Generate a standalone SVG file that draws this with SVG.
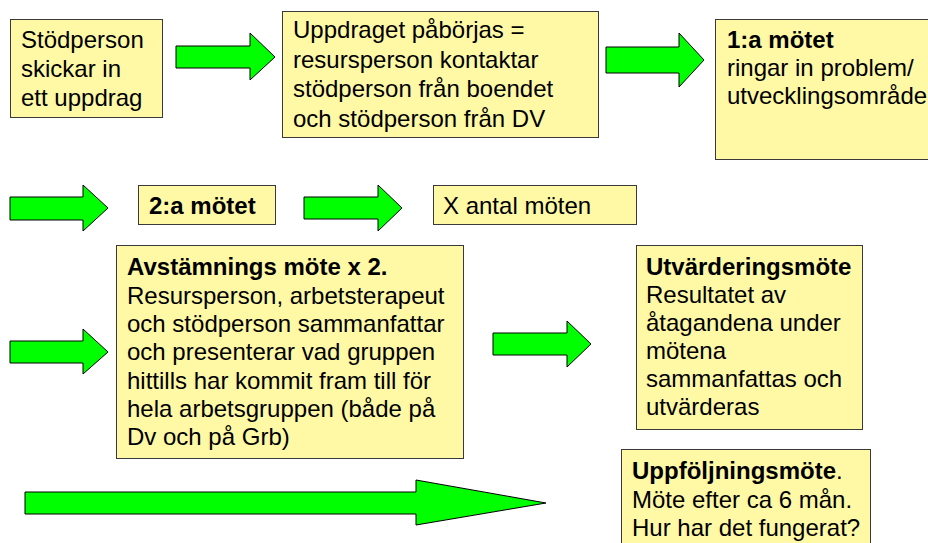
<svg xmlns="http://www.w3.org/2000/svg" width="928" height="543" viewBox="0 0 928 543">
<style>
.box{fill:#FFF9A6;stroke:#3a3a3a;stroke-width:1}
.arr{fill:#00FF00;stroke:#000;stroke-width:1;stroke-linejoin:miter}
text{font-family:"Liberation Sans",Arial,sans-serif;font-size:24px;fill:#000}
.b{font-weight:bold}
</style>
<rect width="928" height="543" fill="#fff"/>
<g id="connectors">
<polygon class="arr" points="176,46 250,46 250,33 275,57 250,80 250,68 176,68"/>
<polygon class="arr" points="606,47 679,47 679,33 704,60 679,87 679,73 606,73"/>
<polygon class="arr" points="10,197 83,197 83,185 108,208 83,231 83,220 10,220"/>
<polygon class="arr" points="304,197 378,197 378,185 402,208 378,231 378,219 304,219"/>
<polygon class="arr" points="10,341 83,341 83,329 108,352 83,374 83,363 10,363"/>
<polygon class="arr" points="493,333 567,333 567,321 591,344 567,367 567,355 493,355"/>
<polygon class="arr" points="25,492 416,492 416,480 546,503 416,525 416,514 25,514"/>
</g>
<g id="n1">
<rect class="box" x="10.5" y="19.5" width="152" height="98"/>
<text x="21" y="48">Stödperson<tspan x="21" y="77">skickar in</tspan><tspan x="21" y="106">ett uppdrag</tspan></text>
</g>
<g id="n2">
<rect class="box" x="282.5" y="11.5" width="316" height="126"/>
<text x="293" y="38">Uppdraget påbörjas =<tspan x="293" y="67.7">resursperson kontaktar</tspan><tspan x="293" y="97.4">stödperson från boendet</tspan><tspan x="293" y="127">och stödperson från DV</tspan></text>
</g>
<g id="n3">
<rect class="box" x="715.5" y="19.5" width="225" height="140"/>
<text x="727" y="48"><tspan class="b">1:a mötet</tspan><tspan x="727" y="76">ringar in problem/</tspan><tspan x="727" y="103.5">utvecklingsområde</tspan></text>
</g>
<g id="n4">
<rect class="box" x="138.5" y="185.5" width="137" height="39"/>
<text x="149" y="214" class="b">2:a mötet</text>
</g>
<g id="n5">
<rect class="box" x="433.5" y="185.5" width="203" height="39"/>
<text x="443" y="214">X antal möten</text>
</g>
<g id="n6">
<rect class="box" x="116.5" y="245.5" width="347" height="213"/>
<text x="127" y="275"><tspan class="b">Avstämnings möte x 2.</tspan><tspan x="127" y="303.5">Resursperson, arbetsterapeut</tspan><tspan x="127" y="332">och stödperson sammanfattar</tspan><tspan x="127" y="360">och presenterar vad gruppen</tspan><tspan x="127" y="388.5">hittills har kommit fram till för</tspan><tspan x="127" y="417">hela arbetsgruppen (både på</tspan><tspan x="127" y="445">Dv och på Grb)</tspan></text>
</g>
<g id="n7">
<rect class="box" x="636.5" y="245.5" width="226" height="184"/>
<text x="646" y="275"><tspan class="b">Utvärderingsmöte</tspan><tspan x="646" y="303">Resultatet av</tspan><tspan x="646" y="331">åtagandena under</tspan><tspan x="646" y="358.5">mötena</tspan><tspan x="646" y="387">sammanfattas och</tspan><tspan x="646" y="415">utvärderas</tspan></text>
</g>
<g id="n8">
<rect class="box" x="621.5" y="449.5" width="249" height="110"/>
<text x="632" y="479"><tspan class="b">Uppföljningsmöte</tspan>.<tspan x="632" y="508">Möte efter ca 6 mån.</tspan><tspan x="632" y="536">Hur har det fungerat?</tspan></text>
</g>
</svg>
